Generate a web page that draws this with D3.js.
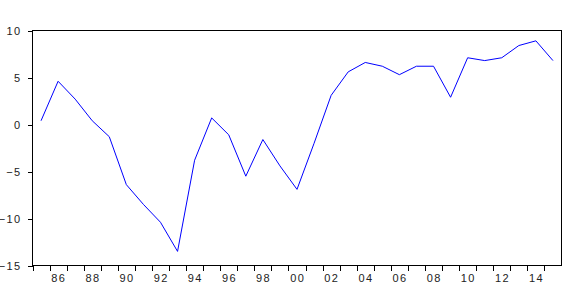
<!DOCTYPE html>
<html>
<head>
<meta charset="utf-8">
<script src="https://cdn.jsdelivr.net/npm/d3@7"></script>
<style>
  html, body { margin: 0; padding: 0; background: #fff; }
  svg { display: block; }
  text { font-family: "Liberation Sans", Arial, sans-serif; font-size: 11px; fill: #222; letter-spacing: 1.4px; }
</style>
</head>
<body>
<div id="chart"></div>
<script>
// annual series 1985-2015
const years = d3.range(1985, 2016);
const values = [
  0.4, 4.6, 2.7, 0.4, -1.3, -6.4, -8.5, -10.4, -13.5, -3.8,
  0.7, -1.1, -5.5, -1.6, -4.4, -6.9, -2.0, 3.1, 5.6, 6.6,
  6.2, 5.3, 6.2, 6.2, 2.9, 7.1, 6.8, 7.1, 8.4, 8.9, 6.8
];
const yTicks = [-15, -10, -5, 0, 5, 10];
const xLabels = d3.range(1986, 2015, 2);

const W = 562, H = 286;
const plot = { left: 32.5, right: 561.5, top: 30.5, bottom: 265.5 };

const svg = d3.select('#chart').append('svg')
  .attr('width', W)
  .attr('height', H);

const x = d3.scaleLinear().domain([1984.5, 2015.5]).range([plot.left, plot.right]);
const y = d3.scaleLinear().domain([-15, 10]).range([plot.bottom, plot.top]);

// frame
svg.append('rect')
  .attr('x', plot.left).attr('y', plot.top)
  .attr('width', plot.right - plot.left).attr('height', plot.bottom - plot.top)
  .attr('fill', 'none')
  .attr('stroke', '#000')
  .attr('stroke-width', 1)
  .attr('shape-rendering', 'crispEdges');

// y axis
const yAxis = svg.append('g')
  .attr('transform', `translate(${plot.left},0)`)
  .call(d3.axisLeft(y).tickValues(yTicks).tickSize(5).tickPadding(6).tickFormat(d3.format('d')));
yAxis.select('.domain').remove();
yAxis.selectAll('line').attr('shape-rendering', 'crispEdges');
yAxis.selectAll('text').attr('font-size', null).attr('font-family', null).attr('fill', '#222');

// x axis: ticks on year boundaries, labels centred on observations
const xAxis = svg.append('g')
  .attr('transform', `translate(0,${plot.bottom})`);
xAxis.selectAll('line')
  .data(d3.range(1984.5, 2016, 1))
  .join('line')
  .attr('x1', d => Math.round(x(d)) + 0.5)
  .attr('x2', d => Math.round(x(d)) + 0.5)
  .attr('y1', 0)
  .attr('y2', 5)
  .attr('stroke', '#000')
  .attr('shape-rendering', 'crispEdges');
xAxis.selectAll('text')
  .data(xLabels)
  .join('text')
  .attr('x', d => x(d) + 0.7)
  .attr('y', 16.5)
  .attr('text-anchor', 'middle')
  .text(d => String(d % 100).padStart(2, '0'));

// series line
const line = d3.line()
  .x((d, i) => x(years[i]))
  .y(d => y(d));

svg.append('path')
  .datum(values)
  .attr('d', line)
  .attr('fill', 'none')
  .attr('stroke', '#0000ff')
  .attr('stroke-width', 1);
</script>
</body>
</html>
